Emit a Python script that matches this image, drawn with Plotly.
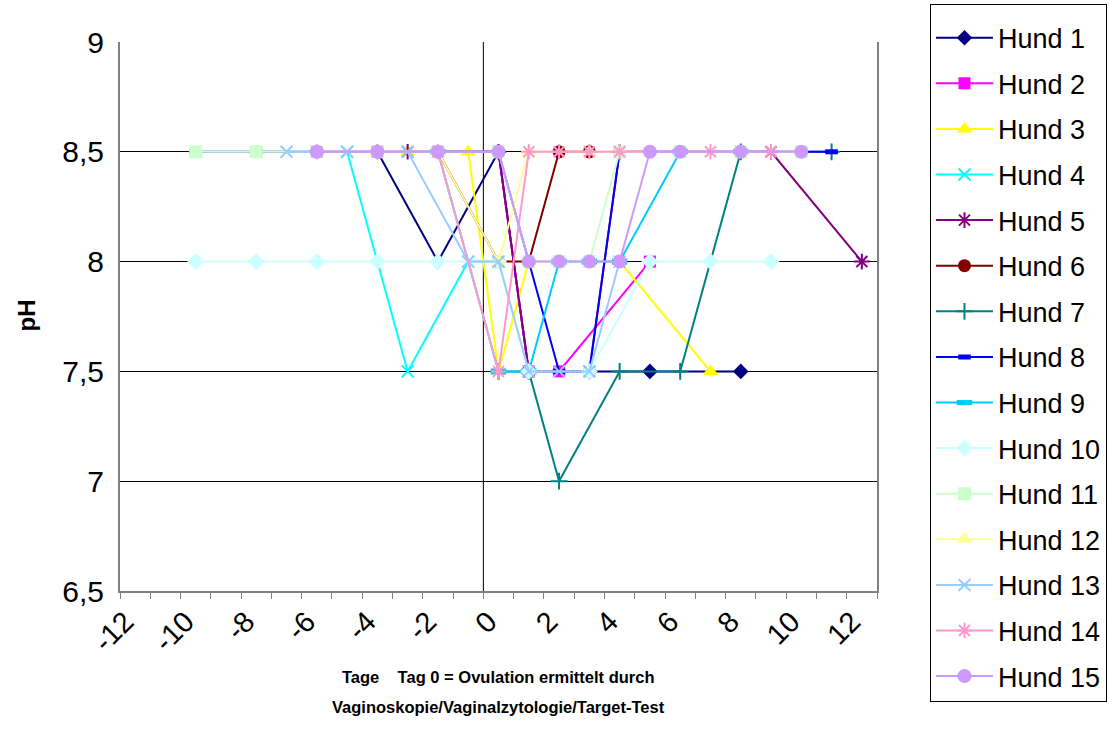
import plotly.graph_objects as go

# ---- data (days relative to ovulation, pH) ----
names = [f"Hund {i}" for i in range(1, 16)]
days_h1 = [-4, -2, 0, 1, 3, 5, 8]
ph_h1 = [8.5, 8.0, 8.5, 7.5, 7.5, 7.5, 7.5]
days_h2 = [-2, 0, 1, 2, 5]
ph_h2 = [8.5, 8.5, 7.5, 7.5, 8.0]
days_h3 = [-3, -1, 0, 1, 4, 7]
ph_h3 = [8.5, 8.5, 7.5, 8.0, 8.0, 7.5]
days_h4 = [-5, -3, -1, 0]
ph_h4 = [8.5, 7.5, 8.0, 8.0]
days_h5 = [-3, 0, 1, 3, 4, 9, 12]
ph_h5 = [8.5, 8.5, 7.5, 7.5, 8.5, 8.5, 8.0]
days_h6 = [-2, 0, 1, 2, 3]
ph_h6 = [8.5, 8.0, 8.0, 8.5, 8.5]
days_h7 = [0, 1, 2, 4, 6, 8, 11]
ph_h7 = [7.5, 7.5, 7.0, 7.5, 7.5, 8.5, 8.5]
days_h8 = [-10, -8, -6, -4, -2, 0, 1, 2, 3, 4, 6, 8, 10, 11]
ph_h8 = [8.5, 8.5, 8.5, 8.5, 8.5, 8.5, 8.0, 7.5, 7.5, 8.5, 8.5, 8.5, 8.5, 8.5]
days_h9 = [-2, 0, 1, 2, 3, 4, 6, 8]
ph_h9 = [8.5, 7.5, 7.5, 8.0, 8.0, 8.0, 8.5, 8.5]
days_h10 = [-10, -8, -6, -4, -2, 0, 1, 3, 5, 7, 9]
ph_h10 = [8.0, 8.0, 8.0, 8.0, 8.0, 8.0, 7.5, 7.5, 8.0, 8.0, 8.0]
days_h11 = [-10, -8, -6, -4, -2, 0, 1, 2, 3, 4, 6, 8, 10]
ph_h11 = [8.5, 8.5, 8.5, 8.5, 8.5, 8.5, 8.0, 8.0, 8.0, 8.5, 8.5, 8.5, 8.5]
days_h12 = [-4, -2, 0, 1, 3, 5, 6, 8, 10]
ph_h12 = [8.5, 8.5, 8.0, 8.5, 8.5, 8.5, 8.5, 8.5, 8.5]
days_h13 = [-7, -5, -3, -1, 0, 1, 2, 3, 4]
ph_h13 = [8.5, 8.5, 8.5, 8.0, 8.0, 7.5, 7.5, 7.5, 8.0]
days_h14 = [-6, -4, -2, 0, 1, 2, 3, 4, 7, 9]
ph_h14 = [8.5, 8.5, 8.5, 7.5, 8.5, 8.5, 8.5, 8.5, 8.5, 8.5]
days_h15 = [-6, -4, -2, 0, 1, 2, 3, 4, 5, 6, 8, 10]
ph_h15 = [8.5, 8.5, 8.5, 8.5, 8.0, 8.0, 8.0, 8.0, 8.5, 8.5, 8.5, 8.5]

x_tick_vals = list(range(-12, 13, 2))
x_tick_text = [str(v) for v in x_tick_vals]
y_tick_vals = [6.5, 7, 7.5, 8, 8.5, 9]

all_days = [days_h1, days_h2, days_h3, days_h4, days_h5, days_h6, days_h7, days_h8,
            days_h9, days_h10, days_h11, days_h12, days_h13, days_h14, days_h15]
all_ph = [ph_h1, ph_h2, ph_h3, ph_h4, ph_h5, ph_h6, ph_h7, ph_h8,
          ph_h9, ph_h10, ph_h11, ph_h12, ph_h13, ph_h14, ph_h15]

colors = ["#000080", "#FF00FF", "#FFFF00", "#00FFFF", "#800080", "#800000", "#008080",
          "#0000FF", "#00CCFF", "#CCFFFF", "#CCFFCC", "#FFFF99", "#99CCFF", "#FF99CC", "#CC99FF"]
symbols = ["diamond", "square", "triangle-up", "x-thin-open", "asterisk-open", "circle",
           "cross-thin-open", "line-ew-open", "line-ew-open", "diamond", "square",
           "triangle-up", "x-thin-open", "asterisk-open", "circle"]
msizes = [12, 12, 14, 12, 13, 13, 12, 9, 11, 13, 13, 14, 12, 13, 14]
mlw = [0, 0, 0, 2, 2, 0, 2, 5, 6, 0, 0, 0, 2, 2, 0]

fig = go.Figure()
for i in range(15):
    fig.add_trace(go.Scatter(
        x=all_days[i], y=all_ph[i], name=names[i], mode="lines+markers",
        legendgroup=names[i],
        line=dict(color=colors[i], width=2),
        marker=dict(symbol=symbols[i], size=msizes[i], color=colors[i],
                    line=dict(color=colors[i], width=mlw[i])),
    ))

fig.add_shape(type="line", xref="x", yref="y", x0=-0.5, x1=-0.5, y0=6.5, y1=9,
              line=dict(color="black", width=1), layer="below")

font_family = "Arial, Liberation Sans, sans-serif"
fig.update_layout(
    width=1109, height=729,
    margin=dict(l=120, r=232, t=42, b=138, autoexpand=False),
    paper_bgcolor="white", plot_bgcolor="white",
    separators=",.",
    font=dict(family=font_family, color="black", size=22),
    showlegend=True,
    legend=dict(x=1.070, y=1.070, xanchor="left", yanchor="top",
                bordercolor="black", borderwidth=1, bgcolor="white",
                font=dict(size=27, family=font_family), tracegroupgap=7.5,
                itemwidth=57, maxheight=725,
                title=dict(text="\u00a0", font=dict(size=7))),
    xaxis=dict(range=[-12.5, 12.5], tickmode="array", tickvals=x_tick_vals,
               ticktext=x_tick_text, tickangle=-45, ticks="outside", ticklen=0,
               showgrid=False, zeroline=False, showline=True, linecolor="#808080",
               linewidth=2, tickfont=dict(size=29), ticklabelshift=-10,
               minor=dict(tickmode="array", tickvals=[v + 0.5 for v in range(-13, 13)],
                          ticks="outside", ticklen=6, tickcolor="#808080", tickwidth=1,
                          showgrid=False)),
    yaxis=dict(range=[6.5, 9], tickmode="array", tickvals=y_tick_vals,
               showgrid=True, gridcolor="black", gridwidth=1, zeroline=False,
               showline=True, linecolor="#808080", linewidth=2, mirror=True,
               ticks="", tickfont=dict(size=30), ticklabelstandoff=8),
)

fig.add_annotation(text="<b>pH</b>", xref="paper", yref="paper",
                   x=(10 - 120) / 757, y=(591 - 316) / 549, textangle=-90,
                   showarrow=False, font=dict(size=24))
fig.add_annotation(text="<b>Tage\u00a0\u00a0\u00a0\u00a0Tag 0 = Ovulation ermittelt durch</b>",
                   xref="paper", yref="paper", x=0.5, y=(591 - 688) / 549,
                   showarrow=False, font=dict(size=16.5))
fig.add_annotation(text="<b>Vaginoskopie/Vaginalzytologie/Target-Test</b>",
                   xref="paper", yref="paper", x=0.5, y=(591 - 718) / 549,
                   showarrow=False, font=dict(size=16.5))

fig.write_html("out.html")
